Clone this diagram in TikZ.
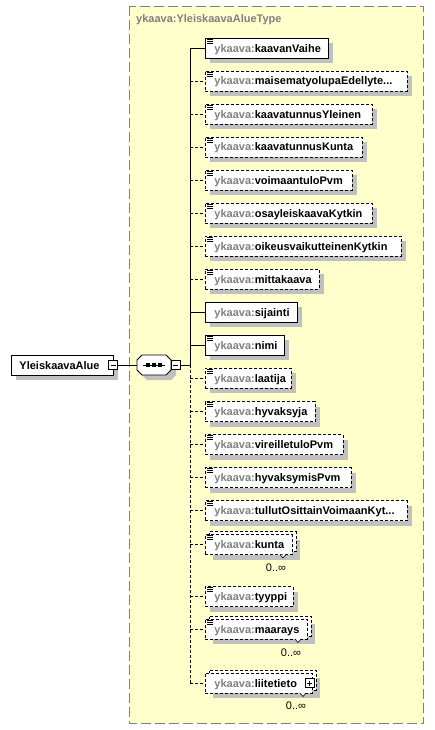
\documentclass[tikz,border=0pt]{standalone}
\usepackage{fontspec}
\setmainfont{Liberation Sans}
\usetikzlibrary{shadows}
\definecolor{bgc}{RGB}{255,255,204}
\definecolor{shadowc}{RGB}{192,192,192}
\definecolor{pfx}{RGB}{128,128,128}
\newcommand\pre{{\color{pfx}ykaava:}}
\newcommand\ebox[2]{\makebox[#1pt][l]{\hspace{9pt}\pre#2}}
\newcommand\eicon[1]{\foreach \d in {1.5,3.5,5.5}{\draw[line width=0.8pt] ([xshift=2pt,yshift=-\d pt]#1.north west) -- ++(5.5,0);}}
\begin{document}
\begin{tikzpicture}[x=1pt,y=-1pt,
  font=\fontsize{11}{13}\selectfont\bfseries,
  elbase/.style={anchor=west, inner sep=0pt, minimum height=20pt, text height=11pt, text depth=3pt, fill=white, draw=black, line width=0.9pt},
  elsolid/.style={elbase, drop shadow={shadow xshift=5pt, shadow yshift=-5pt, fill=shadowc, opacity=1}},
  eldash/.style={elsolid, dash pattern=on 3pt off 2pt},
  elback/.style={elbase, dash pattern=on 3pt off 2pt, drop shadow={shadow xshift=4pt, shadow yshift=-8pt, fill=shadowc, opacity=1}},
  elfront/.style={elbase, dash pattern=on 3pt off 2pt},
  conn/.style={line width=0.9pt},
  connd/.style={conn, dash pattern=on 3pt off 2pt},
  pm/.style={draw=black, fill=white, minimum size=9pt, inner sep=0pt, line width=0.8pt},
  lab/.style={font=\fontsize{11}{13}\selectfont\mdseries, anchor=base, inner sep=0pt},
  notch/.style={line width=0.6pt, fill=white}
]
\useasboundingbox (0,0) rectangle (435,730);
% container
\draw[draw=pfx, fill=bgc, line width=1pt, dash pattern=on 10pt off 4pt] (129.5,6.5) rectangle (423.5,723.5);
\node[anchor=base west, inner sep=0pt, text=pfx] (title) at (136,23) {ykaava:YleiskaavaAlueType};

% root element
\node[elsolid] (root) at (11,365) {\makebox[102pt][l]{\hspace{8pt}YleiskaavaAlue}};
\node[pm] (m1) at (113,365) {};
\draw[line width=0.8pt] ([xshift=-2.5pt]m1.center) -- ([xshift=2.5pt]m1.center);

% sequence compositor
\fill[shadowc] (147,360) -- (171,360) -- (176,365) -- (176,375) -- (171,380) -- (147,380) -- (142,375) -- (142,365) -- cycle;
\draw[line width=0.9pt, fill=white] (142,355) -- (166,355) -- (171,360) -- (171,370) -- (166,375) -- (142,375) -- (137,370) -- (137,360) -- cycle;
\node[inner sep=0pt, minimum width=34pt, minimum height=20pt] (seq) at (154,365) {};
\draw[line width=0.9pt] (143,365) -- (165,365);
\foreach \xx in {148,154,160}{\fill (\xx-1.75,363.25) rectangle (\xx+1.75,366.75);}
\node[pm] (m2) at (175.5,365) {};
\draw[line width=0.8pt] ([xshift=-2.5pt]m2.center) -- ([xshift=2.5pt]m2.center);

% vertical line coordinates
\coordinate (vt) at (190,48.5);
\coordinate (vm) at (190,365);
\coordinate (vb) at (190,683);

% elements
\node[elsolid] (e1) at (205,48.5) {\ebox{123}{kaavanVaihe}};
\node[eldash] (e2) at (205,81) {\ebox{202}{maisematyolupaEdellyte...}};
\node[eldash] (e3) at (205,114.5) {\ebox{167}{kaavatunnusYleinen}};
\node[eldash] (e4) at (205,147) {\ebox{157}{kaavatunnusKunta}};
\node[eldash] (e5) at (205,180) {\ebox{147}{voimaantuloPvm}};
\node[eldash] (e6) at (205,213) {\ebox{167}{osayleiskaavaKytkin}};
\node[eldash] (e7) at (205,246) {\ebox{196}{oikeusvaikutteinenKytkin}};
\node[eldash] (e8) at (205,279) {\ebox{114}{mittakaava}};
\node[elsolid] (e9) at (205,312) {\ebox{92}{sijainti}};
\node[elsolid] (e10) at (205,345) {\ebox{79}{nimi}};
\node[eldash] (e11) at (205,378) {\ebox{86}{laatija}};
\node[eldash] (e12) at (205,411.5) {\ebox{110}{hyvaksyja}};
\node[eldash] (e13) at (205,444.5) {\ebox{138}{vireilletuloPvm}};
\node[eldash] (e14) at (205,477.5) {\ebox{146}{hyvaksymisPvm}};
\node[eldash] (e15) at (205,510.5) {\ebox{202}{tullutOsittainVoimaanKyt...}};
\node[elback] (e16b) at (209,541.5) {\makebox[87pt]{}};
\node[elfront] (e16) at (205,544.5) {\ebox{87}{kunta}};
\node[eldash] (e17) at (205,596.5) {\ebox{88}{tyyppi}};
\node[elback] (e18b) at (209,626) {\makebox[102pt]{}};
\node[elfront] (e18) at (205,629) {\ebox{102}{maarays}};
\node[elback] (e19b) at (209,680) {\makebox[107pt]{}};
\node[elfront] (e19) at (205,683) {\ebox{107}{liitetieto}};

% icons
\foreach \n in {e1,e2,e3,e4,e5,e6,e7,e8,e10,e11,e12,e13,e14,e15,e16,e17,e18}{\eicon{\n}}

% plus box
\node[pm] (p19) at (309.5,683) {};
\draw[line width=0.8pt] ([xshift=-2.5pt]p19.center) -- ([xshift=2.5pt]p19.center);
\draw[line width=0.8pt] ([yshift=-2.5pt]p19.center) -- ([yshift=2.5pt]p19.center);

% multiplicity notches and labels
\draw[notch] (280,554.5) -- (283,558) -- (286,554.5);
\draw[notch] (295,639) -- (298,642.5) -- (301,639);
\draw[notch] (300,693) -- (303,696.5) -- (306,693);
\node[lab] (l16) at (276,571.5) {0..∞};
\node[lab] (l18) at (291,656.5) {0..∞};
\node[lab] (l19) at (296,709.5) {0..∞};

% connectors
\draw[conn] (m1.east) -- (seq.west);
\draw[conn] (m2.east) -- (vm);
\draw[conn] (vt) -- (vm);
\draw[connd] (vm) -- (vb);
\foreach \n in {e1,e9,e10}{\draw[conn] (vm |- \n.west) -- (\n.west);}
\foreach \n in {e2,e3,e4,e5,e6,e7,e8,e11,e12,e13,e14,e15,e16,e17,e18,e19}{\draw[connd] (vm |- \n.west) -- (\n.west);}
\end{tikzpicture}
\end{document}
